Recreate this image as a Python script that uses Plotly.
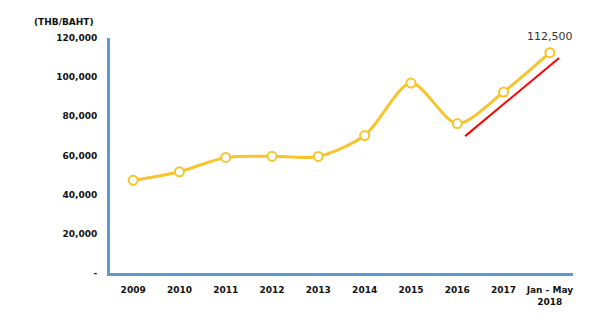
import plotly.graph_objects as go

categories = ["2009", "2010", "2011", "2012", "2013", "2014", "2015", "2016", "2017", "Jan - May<br>2018"]
values = [47300, 51700, 59000, 59600, 59500, 70200, 97000, 76300, 92400, 112500]
y_tick_vals = [0, 20000, 40000, 60000, 80000, 100000, 120000]
y_tick_text = ["-", "20,000", "40,000", "60,000", "80,000", "100,000", "120,000"]
last_label = "112,500"
trend_x = [7.17, 9.2]
trend_y = [69900, 109800]

fig = go.Figure()
fig.add_trace(go.Scatter(
    x=list(range(len(categories))), y=values, mode="lines+markers",
    line=dict(color="#F7C52B", width=3, shape="spline", smoothing=0.8),
    marker=dict(size=9, color="white", line=dict(color="#F7C52B", width=2)),
    cliponaxis=False, showlegend=False,
))
fig.add_trace(go.Scatter(
    x=trend_x, y=trend_y, mode="lines",
    line=dict(color="#FF0000", width=2), showlegend=False, cliponaxis=False,
))
fig.add_annotation(x=len(categories) - 1, y=values[-1], text=last_label,
                   showarrow=False, yshift=16, xshift=0,
                   font=dict(family="DejaVu Sans", size=11, color="#333333"))
fig.add_annotation(xref="paper", yref="paper", x=-0.03, y=1.04, xanchor="right", yanchor="bottom",
                   text="<b>(THB/BAHT)</b>", showarrow=False,
                   font=dict(family="DejaVu Sans", size=9, color="#111111"))

fig.update_layout(
    width=598, height=331,
    margin=dict(l=102, r=33, t=30, b=66),
    paper_bgcolor="white", plot_bgcolor="white",
    font=dict(family="DejaVu Sans", size=9, color="#111111"),
)
fig.update_xaxes(
    tickmode="array", tickvals=list(range(len(categories))),
    ticktext=["<b>%s</b>" % c for c in categories],
    range=[-0.5, 9.5], showgrid=False, zeroline=False,
    showline=True, linecolor="#5B9BD5", linewidth=3,
    ticks="outside", ticklen=6, tickcolor="rgba(0,0,0,0)",
)
fig.update_yaxes(
    tickmode="array", tickvals=y_tick_vals,
    ticktext=["<b>%s</b>" % t for t in y_tick_text],
    range=[0, 120000], showgrid=False, zeroline=False,
    showline=True, linecolor="#5B9BD5", linewidth=3,
    ticks="outside", ticklen=8, tickcolor="rgba(0,0,0,0)",
)
fig.write_html("out.html")
